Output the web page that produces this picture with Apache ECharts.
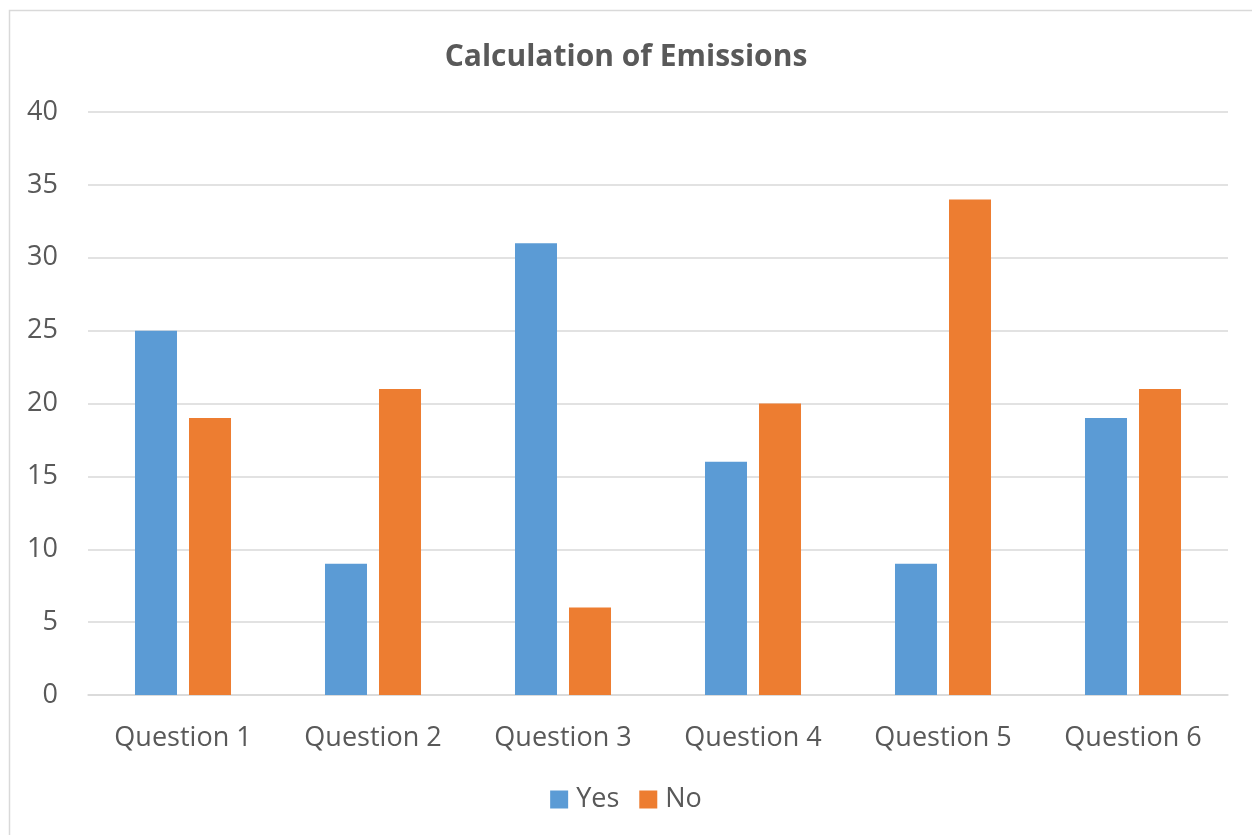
<!DOCTYPE html>
<html>
<head>
<meta charset="utf-8">
<script src="https://cdn.jsdelivr.net/npm/echarts@6/dist/echarts.min.js"></script>
<style>
html,body{margin:0;padding:0;background:#fff;}
#c{width:1252px;height:835px;}
</style>
</head>
<body>
<div id="c"></div>
<script>
const categories = ['Question 1','Question 2','Question 3','Question 4','Question 5','Question 6'];
const yesValues = [25, 9, 31, 16, 9, 19];
const noValues = [19, 21, 6, 20, 34, 21];

const chart = echarts.init(document.getElementById('c'));
const font = '"Open Sans", sans-serif';
chart.setOption({
  animation: false,
  backgroundColor: '#fff',
  graphic: [{
    type: 'rect', silent: true, z: -1,
    shape: {x: 9.5, y: 10.5, width: 1400, height: 1000},
    style: {fill: 'none', stroke: '#d9d9d9', lineWidth: 1.5}
  }],
  title: {
    text: 'Calculation of Emissions',
    left: 'center', top: 37,
    textStyle: {fontFamily: font, fontSize: 30, fontWeight: 'bold', color: '#595959'}
  },
  legend: {
    data: ['Yes','No'],
    bottom: 17, left: 'center',
    itemWidth: 18, itemHeight: 18, itemGap: 20,
    icon: 'rect',
    textStyle: {fontFamily: font, fontSize: 27, color: '#595959', padding: [0, 0, 0, 3]}
  },
  grid: {left: 88, right: 24, top: 112, bottom: 140, containLabel: false},
  xAxis: {
    type: 'category',
    data: categories,
    axisLine: {lineStyle: {color: '#d9d9d9', width: 1.5}},
    axisTick: {show: false},
    axisLabel: {fontFamily: font, fontSize: 27, color: '#595959', margin: 30}
  },
  yAxis: {
    type: 'value', min: 0, max: 40, interval: 5,
    axisLine: {show: false},
    axisTick: {show: false},
    splitLine: {lineStyle: {color: '#d9d9d9', width: 1.5}},
    axisLabel: {fontFamily: font, fontSize: 27, color: '#595959', margin: 30}
  },
  series: [
    {name: 'Yes', type: 'bar', data: yesValues, barWidth: 42, barGap: '28.6%', itemStyle: {color: '#5B9BD5'}},
    {name: 'No', type: 'bar', data: noValues, barWidth: 42, itemStyle: {color: '#ED7D31'}}
  ]
});
</script>
</body>
</html>
